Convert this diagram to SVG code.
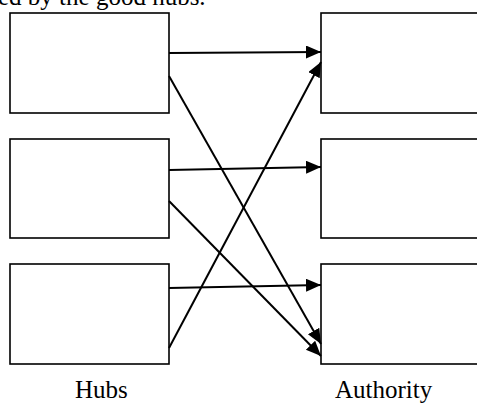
<svg xmlns="http://www.w3.org/2000/svg" width="477" height="403" viewBox="0 0 477 403">
  <style>
    .box { fill: #fff; stroke: #000; stroke-width: 1.6; }
    .edge { stroke: #000; stroke-width: 2; fill: none; marker-end: url(#head); }
    .label { font-family: "Liberation Serif", "Times New Roman", serif; font-size: 25px; fill: #000; }
  </style>
  <defs>
    <marker id="head" markerUnits="userSpaceOnUse" markerWidth="16" markerHeight="14" refX="15" refY="6.5" orient="auto">
      <path d="M0,0 L15,6.5 L0,13 z" fill="#000"/>
    </marker>
  </defs>
  <rect width="477" height="403" fill="#fff"/>

  <!-- tail of the preceding sentence, clipped by the top edge -->
  <text class="label" x="-2" y="5">ed by the good hubs.</text>

  <!-- hub pages -->
  <g id="hub1"><rect class="box" x="10" y="13" width="159" height="100"/></g>
  <g id="hub2"><rect class="box" x="10" y="139" width="159" height="99"/></g>
  <g id="hub3"><rect class="box" x="10" y="264" width="159" height="100"/></g>

  <!-- authority pages (run off the right edge) -->
  <g id="auth1"><rect class="box" x="321" y="13" width="200" height="100"/></g>
  <g id="auth2"><rect class="box" x="321" y="139" width="200" height="99"/></g>
  <g id="auth3"><rect class="box" x="321" y="264" width="200" height="100"/></g>

  <!-- links from hubs to authorities -->
  <g id="links">
    <line class="edge" x1="169" y1="53" x2="321" y2="52"/>
    <line class="edge" x1="169" y1="76" x2="321" y2="344"/>
    <line class="edge" x1="169" y1="170" x2="321" y2="167"/>
    <line class="edge" x1="169" y1="201" x2="321" y2="356"/>
    <line class="edge" x1="169" y1="288" x2="321" y2="285"/>
    <line class="edge" x1="169" y1="348" x2="321" y2="62"/>
  </g>

  <g id="captions">
    <text class="label" x="75" y="398">Hubs</text>
    <text class="label" x="335" y="398">Authority</text>
  </g>
</svg>
